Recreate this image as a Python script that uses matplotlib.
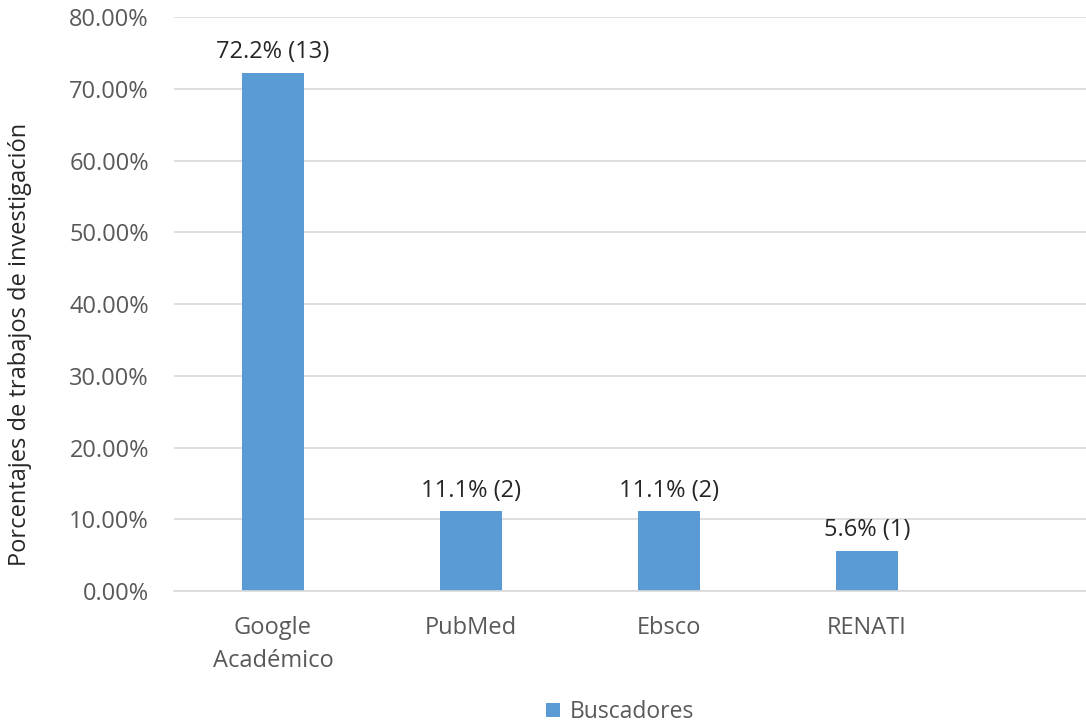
import matplotlib
matplotlib.use("Agg")
import matplotlib.pyplot as plt
import numpy as np

categories = ["Google\nAcadémico", "PubMed", "Ebsco", "RENATI", ""]
values = [72.2, 11.1, 11.1, 5.6, np.nan]
counts = [13, 2, 2, 1, None]
yticks = [0, 10, 20, 30, 40, 50, 60, 70, 80]
series_name = "Buscadores"

plt.rcParams['font.family'] = ['Open Sans', 'DejaVu Sans']

fig = plt.figure(figsize=(10.86, 7.25), dpi=100)
ax = fig.add_axes([0.1602, 0.1848, 0.9116, 0.7917])

x = np.arange(len(categories))
bars = ax.bar(x, values, width=0.313, color="#5B9BD5", label=series_name, zorder=3)

for xi, v, c in zip(x, values, counts):
    if c is None or np.isnan(v):
        continue
    ax.text(xi, v + 1.2, f"{v:.1f}% ({c})", ha="center", va="bottom",
            fontsize=17, color="#262626")

ax.set_xlim(-0.5, len(categories) - 0.5)
ax.set_ylim(0, 80)
ax.set_yticks(yticks)
ax.set_yticklabels([f"{t:.2f}%" for t in yticks])
ax.set_xticks(x)
ax.set_xticklabels(categories, linespacing=1.5)
ax.tick_params(axis='both', length=0, labelsize=17, colors="#595959")
ax.tick_params(axis='x', pad=18)
ax.tick_params(axis='y', pad=18)

ax.grid(axis='y', color="#D9D9D9", linewidth=1.2, zorder=0)
for s in ["top", "right", "left"]:
    ax.spines[s].set_visible(False)
ax.spines["bottom"].set_color("#D9D9D9")
ax.spines["bottom"].set_linewidth(1.2)
ax.spines["bottom"].set_zorder(4)

ax.set_ylabel("Porcentajes de trabajos de investigación", fontsize=17,
              color="#262626")
ax.yaxis.set_label_coords(-0.1434, 0.43)

fig.legend(handles=[bars], labels=[series_name], loc="center",
           bbox_to_anchor=(0.571, 0.018), frameon=False, fontsize=16.5,
           handlelength=0.6, handleheight=0.6, handletextpad=0.4,
           labelcolor="#595959")

fig.savefig("out.png", dpi=100, facecolor="white")
